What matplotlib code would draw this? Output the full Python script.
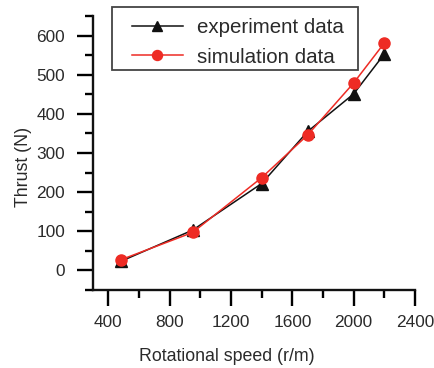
import matplotlib
matplotlib.use("Agg")
import matplotlib.pyplot as plt
from matplotlib.ticker import MultipleLocator
from matplotlib.patches import Rectangle

speed = [480, 950, 1400, 1700, 2000, 2200]
experiment = [23, 103, 222, 355, 451, 553]
simulation = [27, 97, 237, 346, 479, 581]
xticks = [400, 800, 1200, 1600, 2000, 2400]
yticks = [0, 100, 200, 300, 400, 500, 600]

plt.rcParams['font.family'] = ['Liberation Sans', 'DejaVu Sans']
txt = '#2a2a2a'

W, H = 434, 368
fig = plt.figure(figsize=(W / 100, H / 100), dpi=100)
ax = fig.add_axes([93 / W, 1 - 290 / H, 322 / W, 274 / H])

ax.plot(speed, experiment, color='#111111', lw=1.1, marker='^', markersize=8.5,
        label='experiment data', zorder=3)
ax.plot(speed, simulation, color='#ee2b24', lw=1.1, marker='o', markersize=8,
        label='simulation data', zorder=4)

ax.set_xlim(300, 2400)
ax.set_ylim(-50, 650)
ax.set_xticks(xticks)
ax.set_yticks(yticks)
ax.xaxis.set_minor_locator(MultipleLocator(200))
ax.yaxis.set_minor_locator(MultipleLocator(50))

for s in ['top', 'right']:
    ax.spines[s].set_visible(False)
for s in ['left', 'bottom']:
    ax.spines[s].set_linewidth(1.7)
    ax.spines[s].set_color('#111111')

ax.tick_params(which='major', direction='out', length=11.5, width=1.7,
               labelsize=12.4, labelcolor=txt)
ax.tick_params(which='minor', direction='out', length=5.5, width=1.7)
ax.tick_params(axis='y', which='major', pad=8.5)
ax.tick_params(axis='x', which='major', pad=6.5)

ax.set_xlabel('Rotational speed (r/m)', fontsize=12.8, color=txt)
ax.xaxis.set_label_coords(0.415, -0.213)
ax.set_ylabel('Thrust (N)', fontsize=12.8, color=txt)
ax.yaxis.set_label_coords(-0.19, 0.449)

leg = fig.legend(*ax.get_legend_handles_labels(), loc='upper left',
                 bbox_to_anchor=(132 / W, 1 - 18 / H), borderaxespad=0,
                 borderpad=0, fontsize=14.8, frameon=False,
                 handlelength=2.48, handletextpad=0.68, labelspacing=0.52,
                 markerscale=0.9)
for t in leg.get_texts():
    t.set_color(txt)
fig.patches.append(Rectangle((112 / W, 1 - 70 / H), 246 / W, 63 / H,
                             transform=fig.transFigure, fill=False,
                             edgecolor='#444444', lw=1.3, zorder=5))

fig.savefig('out.png', dpi=100, facecolor='white')
